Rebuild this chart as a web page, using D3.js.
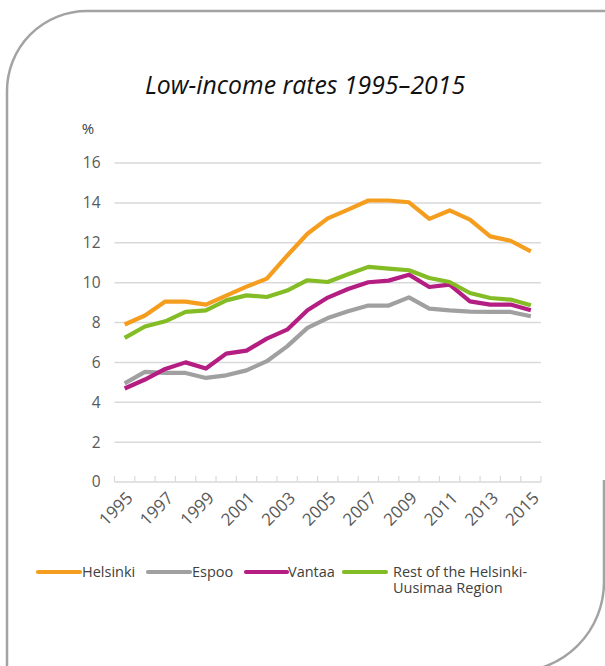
<!DOCTYPE html>
<html><head><meta charset="utf-8">
<script src="https://cdn.jsdelivr.net/npm/d3@7/dist/d3.min.js"></script>
<style>html,body{margin:0;padding:0;background:#fff;}svg{display:block;}</style>
</head><body>
<script>
const years = d3.range(1995, 2016);
const helsinki = [7.9,8.35,9.05,9.05,8.9,9.35,9.8,10.2,11.35,12.45,13.22,13.66,14.12,14.12,14.03,13.2,13.62,13.16,12.32,12.1,11.57];
const espoo    = [4.95,5.52,5.47,5.47,5.22,5.35,5.6,6.06,6.8,7.73,8.22,8.56,8.85,8.85,9.26,8.7,8.61,8.55,8.53,8.53,8.31];
const vantaa   = [4.69,5.14,5.67,6.0,5.69,6.44,6.59,7.19,7.64,8.61,9.25,9.68,10.02,10.1,10.4,9.78,9.9,9.06,8.9,8.9,8.61];
const rest     = [7.23,7.8,8.06,8.53,8.61,9.11,9.36,9.28,9.6,10.12,10.03,10.42,10.79,10.7,10.62,10.23,10.03,9.48,9.23,9.15,8.86];
const seriesNames = ["Helsinki","Espoo","Vantaa","Rest of the Helsinki-Uusimaa Region"];
const seriesColors = ["#F59D1E","#A0A0A0","#B41E82","#84BC25"];
const yTicks = [0,2,4,6,8,10,12,14,16];
const xTickLabels = [1995,1997,1999,2001,2003,2005,2007,2009,2011,2013,2015];
const title = "Low-income rates 1995–2015";
const unit = "%";

const W = 605, H = 666;
const FONT = "'Open Sans', 'Noto Sans', sans-serif";
const svg = d3.select("body").append("svg").attr("width", W).attr("height", H);

// frame
svg.append("path")
  .attr("d", "M7,700 L7,91 A80,80 0 0 1 87,11 L620,11")
  .attr("fill","none").attr("stroke","#a3a3a3").attr("stroke-width",2.5);
svg.append("path")
  .attr("d", "M604,480 L604,582 A90,90 0 0 1 514,672")
  .attr("fill","none").attr("stroke","#a3a3a3").attr("stroke-width",2.5);

const x = d3.scaleBand().domain(years).range([114.5, 541]);
const y = d3.scaleLinear().domain([0,16]).range([482, 163]);

// title
svg.append("text").attr("x", 305).attr("y", 94).attr("text-anchor","middle")
  .attr("font-family", FONT).attr("font-style","italic").attr("font-size", 24.8)
  .attr("fill","#111").text(title);
svg.append("text").attr("x", 88).attr("y", 134).attr("text-anchor","middle")
  .attr("font-family", FONT).attr("font-size", 15).attr("fill","#404040").text(unit);

// gridlines
svg.append("g").selectAll("line").data(yTicks.filter(d=>d>0)).join("line")
  .attr("x1", 114.5).attr("x2", 541).attr("y1", d=>y(d)).attr("y2", d=>y(d))
  .attr("stroke","#d9d9d9").attr("stroke-width",1.5);

// y axis labels
const yAxis = d3.axisLeft(y).tickValues(yTicks).tickSize(0).tickPadding(14);
const gy = svg.append("g").attr("transform","translate(114.5,0)").call(yAxis);
gy.select(".domain").remove();
gy.selectAll("text").attr("font-family", FONT).attr("font-size", 15.5).attr("fill","#595959");

// x axis line and ticks
svg.append("line").attr("x1",114.5).attr("x2",541).attr("y1",y(0)).attr("y2",y(0))
  .attr("stroke","#d9d9d9").attr("stroke-width",1.5);
const bounds = years.map(d=>x(d)).concat([x(2015)+x.bandwidth()]);
svg.append("g").selectAll("line").data(bounds).join("line")
  .attr("x1",d=>d).attr("x2",d=>d).attr("y1",y(0)).attr("y2",y(0)-6)
  .attr("stroke","#d9d9d9").attr("stroke-width",1.2);

// x labels
svg.append("g").selectAll("text").data(xTickLabels).join("text")
  .attr("transform", d=>`translate(${x(d)+x.bandwidth()/2+5},${y(0)+13}) rotate(-45)`)
  .attr("text-anchor","end").attr("dy","0.35em")
  .attr("font-family", FONT).attr("font-size", 17).attr("fill","#595959").text(d=>d);

// lines
const allSeries = [helsinki, espoo, vantaa, rest];
const line = d3.line().x((d,i)=>x(years[i])+x.bandwidth()/2).y(d=>y(d));
const drawOrder = [1,2,3,0];
drawOrder.forEach(k=>{
  svg.append("path").attr("d", line(allSeries[k])).attr("fill","none")
    .attr("stroke", seriesColors[k]).attr("stroke-width",4.2)
    .attr("stroke-linejoin","round").attr("stroke-linecap","butt");
});

// legend
const legendItems = [
  {x1:38, x2:80, tx:82, lines:["Helsinki"]},
  {x1:148, x2:190, tx:192, lines:["Espoo"]},
  {x1:246, x2:287, tx:288, lines:["Vantaa"]},
  {x1:344, x2:386, tx:393, lines:["Rest of the Helsinki-","Uusimaa Region"]}
];
legendItems.forEach((it,k)=>{
  svg.append("line").attr("x1",it.x1).attr("x2",it.x2).attr("y1",572).attr("y2",572)
    .attr("stroke",seriesColors[k]).attr("stroke-width",4.2).attr("stroke-linecap","round");
  it.lines.forEach((s,j)=>{
    svg.append("text").attr("x",it.tx).attr("y",577 + j*15.5)
      .attr("font-family", FONT).attr("font-size",14.5).attr("fill","#404040").text(s);
  });
});
</script>
</body></html>
